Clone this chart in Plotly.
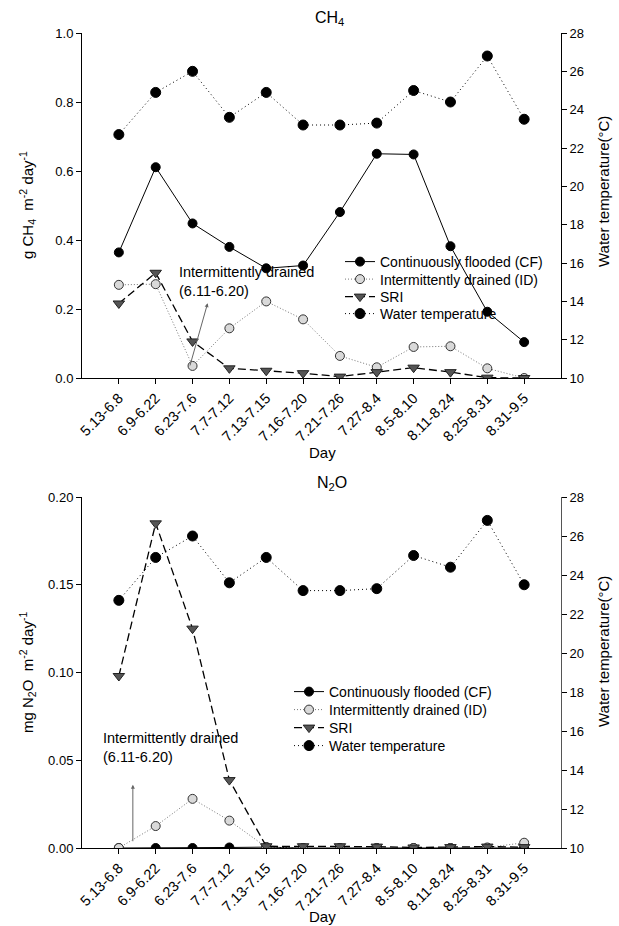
import plotly.graph_objects as go

days = ["5.13-6.8", "6.9-6.22", "6.23-7.6", "7.7-7.12", "7.13-7.15", "7.16-7.20",
        "7.21-7.26", "7.27-8.4", "8.5-8.10", "8.11-8.24", "8.25-8.31", "8.31-9.5"]
water_temp = [22.7, 24.9, 26.0, 23.6, 24.9, 23.2, 23.2, 23.3, 25.0, 24.4, 26.8, 23.5]

ch4_cf = [0.364, 0.611, 0.448, 0.380, 0.318, 0.326, 0.481, 0.650, 0.648, 0.382, 0.192, 0.104]
ch4_id = [0.270, 0.272, 0.035, 0.144, 0.222, 0.170, 0.064, 0.031, 0.090, 0.092, 0.028, 0.0]
ch4_sri = [0.216, 0.305, 0.106, 0.028, 0.021, 0.014, 0.004, 0.017, 0.030, 0.017, 0.001, 0.0]

n2o_cf = [0.0, 0.0, 0.0, 0.0003, 0.0005, 0.0, 0.0, 0.0, 0.0, 0.0, 0.0, 0.0]
n2o_id = [0.0, 0.0125, 0.028, 0.0156, 0.0005, 0.0, 0.0, 0.0, 0.0, 0.0, 0.0003, 0.003]
n2o_sri = [0.098, 0.185, 0.125, 0.0387, 0.001, 0.001, 0.001, 0.0008, 0.0003, 0.0005, 0.0008, 0.0005]

series_names = ["Continuously flooded (CF)", "Intermittently drained (ID)", "SRI", "Water temperature"]

W, H = 619, 926
FONT = "Liberation Sans, Arial, sans-serif"
xi = list(range(len(days)))
ML, MR = 82, 58
PW = W - ML - MR


def pxx(px):
    return (px - ML) / PW


def pyv(px):
    return 1 - px / H


fig = go.Figure()

styles = [
    dict(line=dict(color="black", width=1),
         marker=dict(symbol="circle", size=9, color="black", line=dict(color="black", width=1))),
    dict(line=dict(color="#777777", width=1, dash="1px,2px"),
         marker=dict(symbol="circle", size=9, color="#d9d9d9", line=dict(color="#333333", width=1))),
    dict(line=dict(color="black", width=1.3, dash="8px,4px"),
         marker=dict(symbol="triangle-down", size=10, color="#555555", line=dict(color="#222222", width=1))),
    dict(line=dict(color="black", width=1, dash="1px,3px"),
         marker=dict(symbol="circle", size=10, color="black", line=dict(color="black", width=1))),
]


def add_panel(xa, ya, ya2, cf, idv, sri, legend_ids):
    vals = [cf, idv, sri, water_temp]
    yaxes = [ya, ya, ya, ya2]
    for k in range(4):
        fig.add_trace(go.Scatter(x=xi, y=vals[k], xaxis=xa, yaxis=yaxes[k], name=series_names[k],
                                 mode="lines+markers", legend=legend_ids[k], **styles[k]))


add_panel("x", "y", "y2", ch4_cf, ch4_id, ch4_sri, ["legend", "legend2", "legend3", "legend4"])
add_panel("x2", "y3", "y4", n2o_cf, n2o_id, n2o_sri, ["legend5", "legend6", "legend7", "legend8"])

ax_common = dict(showline=True, linecolor="black", linewidth=1, ticks="outside", ticklen=5,
                 tickcolor="black", tickfont=dict(size=13, family=FONT, color="black"),
                 showgrid=False, zeroline=False, automargin=False)

xcommon = dict(ax_common, tickvals=xi, ticktext=days, tickangle=-45, range=[-1, 12],
               tickfont=dict(size=14.5, family=FONT, color="black"))

top_dom = [pyv(378), pyv(33)]
bot_dom = [pyv(848), pyv(497)]

legend_layout = {}
top_rows = [262, 279.5, 297, 314]
bot_rows = [692, 710, 728, 746]
for k in range(4):
    for (name_idx, rows, xl) in [(k, top_rows, 340), (k + 4, bot_rows, 289)]:
        key = "legend" if name_idx == 0 else "legend%d" % (name_idx + 1)
        legend_layout[key] = dict(x=pxx(xl), y=pyv(rows[k]), xanchor="left", yanchor="middle",
                                  bgcolor="rgba(0,0,0,0)", font=dict(size=14, family=FONT),
                                  borderwidth=0)

fig.update_layout(
    width=W, height=H,
    margin=dict(l=ML, r=MR, t=0, b=0, autoexpand=False),
    paper_bgcolor="white", plot_bgcolor="white",
    font=dict(family=FONT, size=13, color="black"),
    showlegend=True,
    xaxis=dict(xcommon, anchor="y", domain=[0, 1]),
    yaxis=dict(ax_common, domain=top_dom, range=[0, 1.0], tickvals=[0, 0.2, 0.4, 0.6, 0.8, 1.0],
               tickformat=".1f", anchor="x"),
    yaxis2=dict(ax_common, overlaying="y", side="right", range=[10, 28],
                tickvals=list(range(10, 29, 2)), anchor="x"),
    xaxis2=dict(xcommon, anchor="y3", domain=[0, 1]),
    yaxis3=dict(ax_common, domain=bot_dom, range=[0, 0.20],
                tickvals=[0, 0.05, 0.10, 0.15, 0.20], tickformat=".2f", anchor="x2"),
    yaxis4=dict(ax_common, overlaying="y3", side="right", range=[10, 28],
                tickvals=list(range(10, 29, 2)), anchor="x2", linecolor="#555555"),
    **legend_layout,
)


def txt(text, xpx, ypx, size, angle=0):
    return dict(text=text, x=pxx(xpx), y=pyv(ypx), xref="paper", yref="paper",
                xanchor="center", yanchor="middle", showarrow=False, textangle=angle,
                font=dict(size=size, family=FONT, color="black"))


annos = [
    txt("CH<sub>4</sub>", 329, 19, 16),
    txt("N<sub>2</sub>O", 332, 484, 16),
    txt("Day", 322, 452, 15),
    txt("Day", 322, 916, 15),
    txt("g CH<sub>4</sub>  m<sup>-2</sup> day<sup>-1</sup>", 27, 205, 15, -90),
    txt("mg N<sub>2</sub>O  m<sup>-2</sup> day<sup>-1</sup>", 27, 673, 15, -90),
    txt("Water temperature(°C)", 603, 192, 15, -90),
    txt("Water temperature(°C)", 603, 652, 15, -90),
]
# Intermittently drained notes
annos.append(dict(text="Intermittently drained<br>(6.11-6.20)", x=1.58, y=0.280, xref="x", yref="y",
                  xanchor="left", yanchor="middle", align="left", showarrow=False,
                  font=dict(size=14.5, family=FONT, color="black")))
annos.append(dict(text="Intermittently drained<br>(6.11-6.20)", x=-0.48, y=0.0575, xref="x2", yref="y3",
                  xanchor="left", yanchor="middle", align="left", showarrow=False,
                  font=dict(size=14.5, family=FONT, color="black")))
# arrows
annos.append(dict(x=2.41, y=0.217, ax=1.92, ay=0.032, xref="x", yref="y", axref="x", ayref="y",
                  text="", showarrow=True, arrowhead=2, arrowsize=0.8, arrowwidth=1,
                  arrowcolor="#666666"))
annos.append(dict(x=0.38, y=0.036, ax=0.38, ay=0.003, xref="x2", yref="y3", axref="x2", ayref="y3",
                  text="", showarrow=True, arrowhead=2, arrowsize=0.8, arrowwidth=1,
                  arrowcolor="#666666"))
fig.update_layout(annotations=annos)

fig.write_html("out.html", config={"displayModeBar": False},
               post_script="document.body.style.margin='0';document.body.style.padding='0';")
